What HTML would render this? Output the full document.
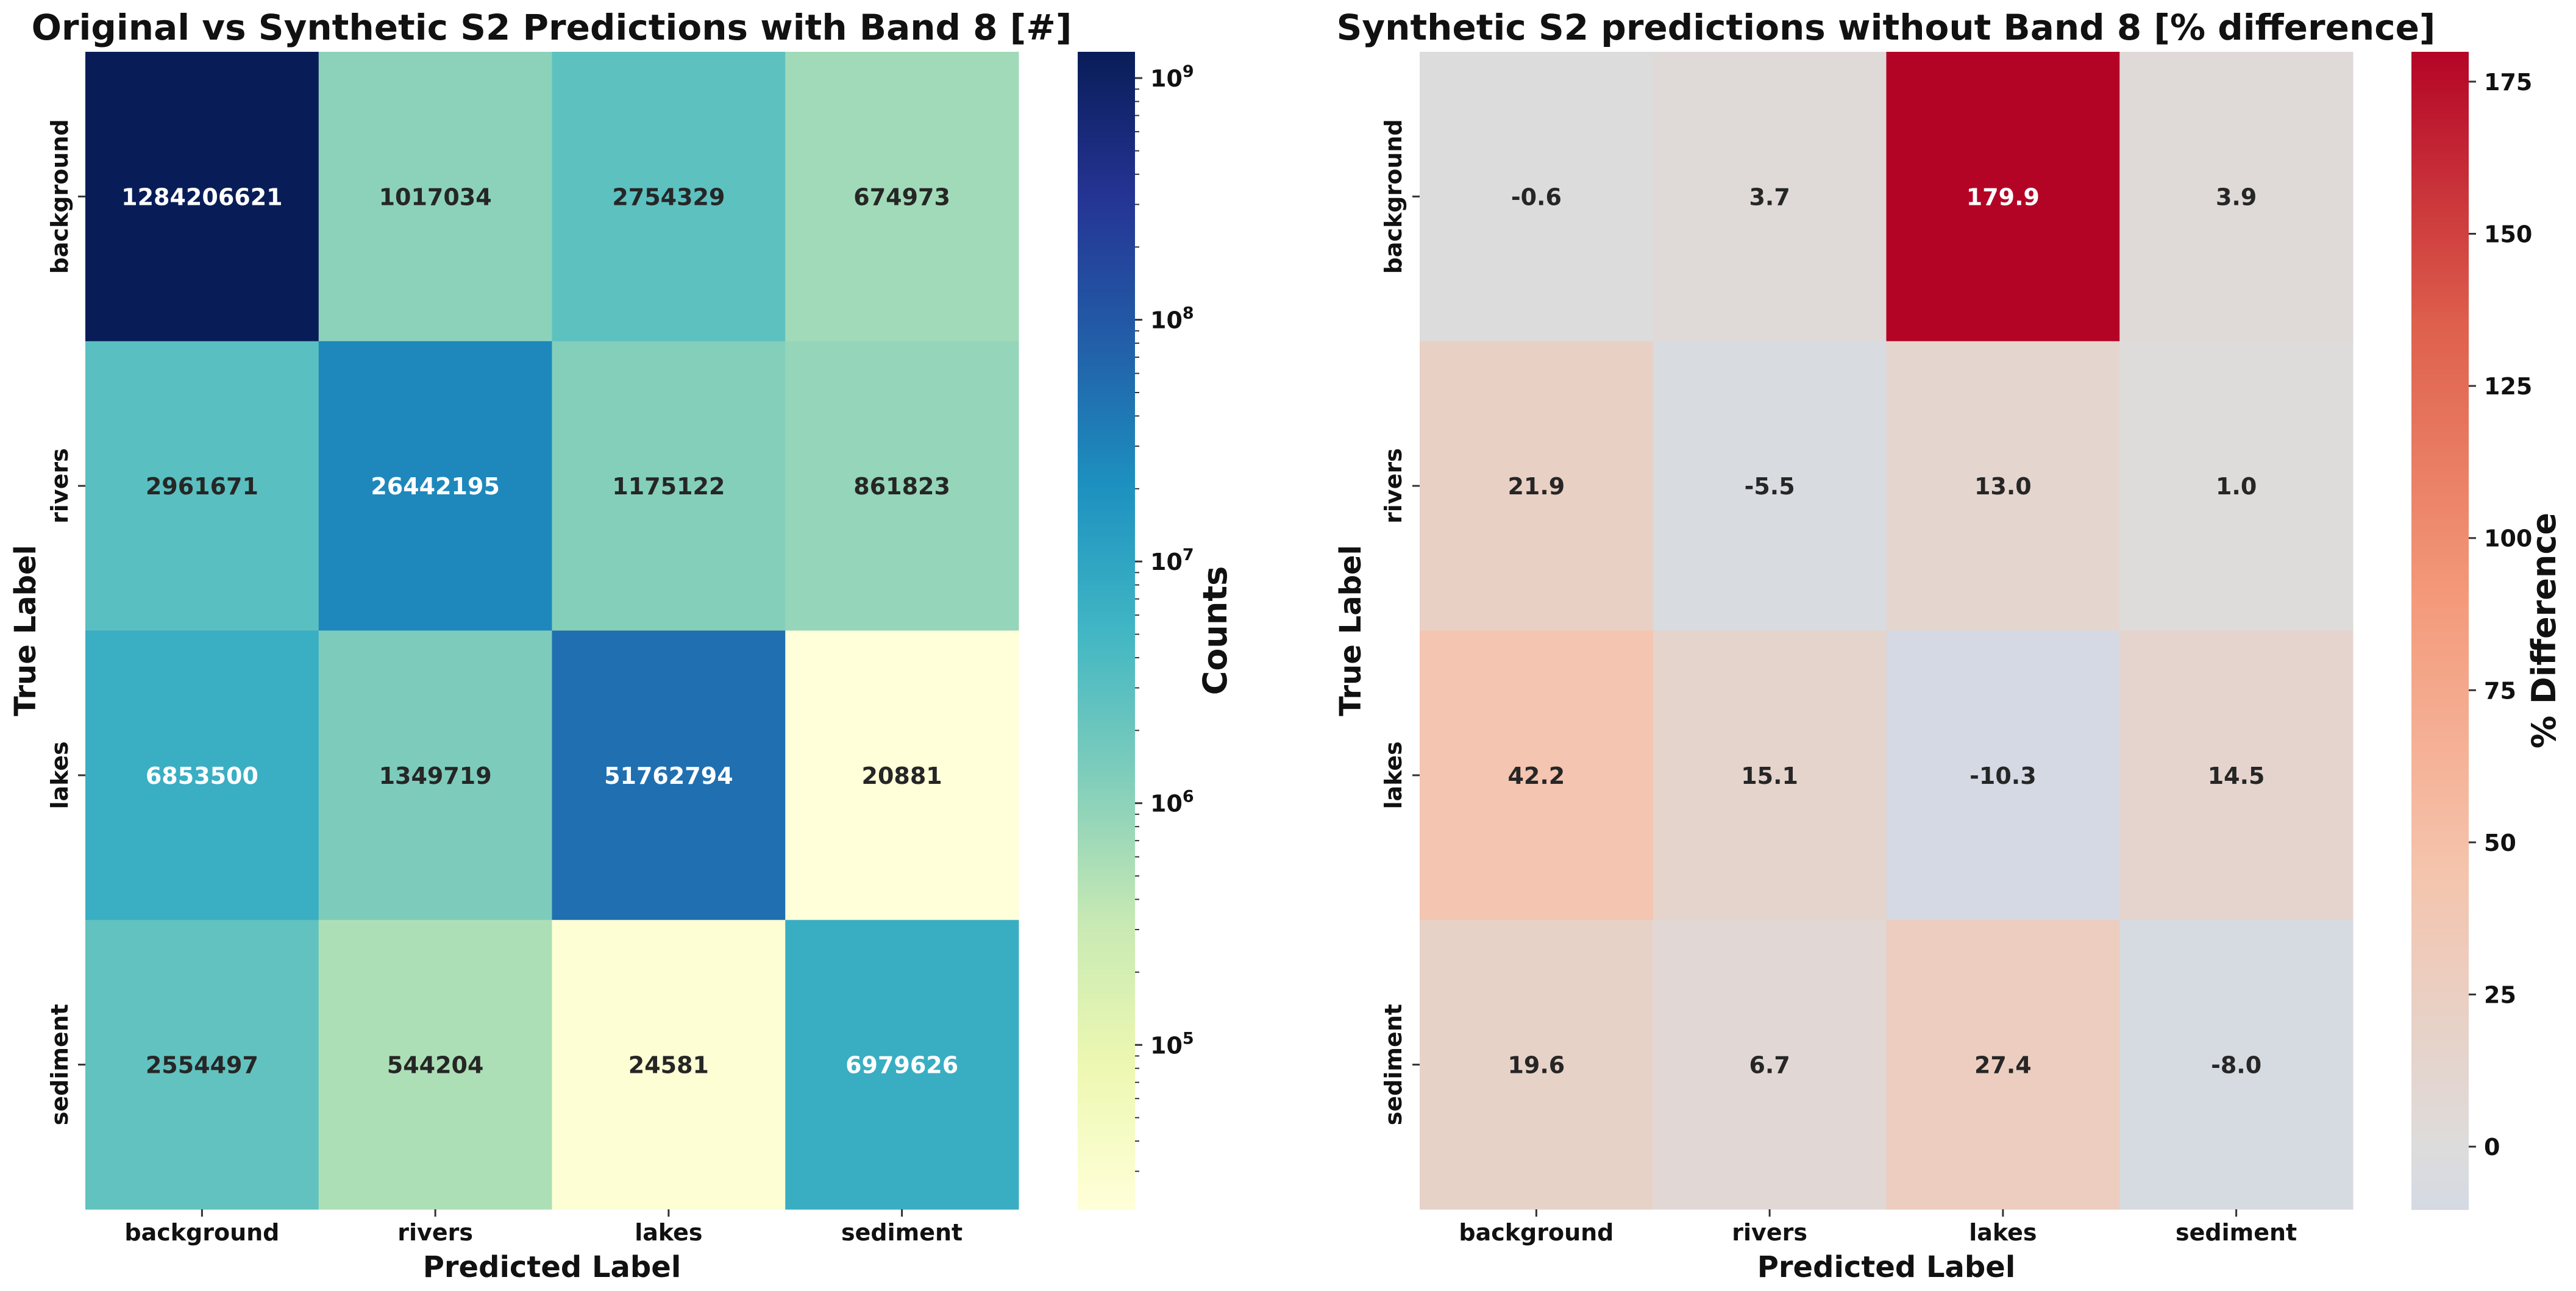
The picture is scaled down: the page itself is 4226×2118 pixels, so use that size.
<!DOCTYPE html>
<html><head><meta charset="utf-8"><style>
html,body{margin:0;padding:0;background:#fff;}
svg text{font-family:"DejaVu Sans","Liberation Sans",sans-serif;font-weight:bold;}
</style></head><body>
<svg id="fig" xmlns="http://www.w3.org/2000/svg" width="4226" height="2113" viewBox="0 0 4226 2113">
<rect width="4226" height="2113" fill="#fff"/>
<g id="left"></g>
<g id="right"></g>
</svg>
<script>
const categories = ["background","rivers","lakes","sediment"];
const countsRow0 = [1284206621,1017034,2754329,674973];
const countsRow1 = [2961671,26442195,1175122,861823];
const countsRow2 = [6853500,1349719,51762794,20881];
const countsRow3 = [2554497,544204,24581,6979626];
const diffRow0 = [-0.6,3.7,179.9,3.9];
const diffRow1 = [21.9,-5.5,13.0,1.0];
const diffRow2 = [42.2,15.1,-10.3,14.5];
const diffRow3 = [19.6,6.7,27.4,-8.0];
const logTickExps = [5,6,7,8,9];
const diffTicks = [0,25,50,75,100,125,150,175];

const NS="http://www.w3.org/2000/svg";
function mk(parent,tag,attrs,text){const e=document.createElementNS(NS,tag);for(const k in attrs)e.setAttribute(k,attrs[k]);if(text!==undefined)e.textContent=text;parent.appendChild(e);return e;}
function lerpStops(stops,t){t=Math.max(0,Math.min(1,t));const n=stops.length-1;const p=t*n;const i=Math.min(n-1,Math.floor(p));const f=p-i;const a=stops[i],b=stops[i+1];return [0,1,2].map(k=>Math.round(a[k]+(b[k]-a[k])*f));}
const YlGnBu=[[255,255,217],[237,248,177],[199,233,180],[127,205,187],[65,182,196],[29,145,192],[34,94,168],[37,52,148],[8,29,88]];
const coolwarm=[[59,76,192],[98,130,234],[141,176,254],[184,208,249],[221,220,220],[245,196,173],[244,154,123],[222,96,77],[180,4,38]];
function rgb(c){return `rgb(${c[0]},${c[1]},${c[2]})`;}
function lum(c){const f=v=>{v/=255;return v<=0.03928?v/12.92:Math.pow((v+0.055)/1.055,2.4)};return 0.2126*f(c[0])+0.7152*f(c[1])+0.0722*f(c[2]);}

const countRows=[countsRow0,countsRow1,countsRow2,countsRow3];
const diffRows=[diffRow0,diffRow1,diffRow2,diffRow3];
const allC=countRows.flat(), allD=diffRows.flat();
const cMin=Math.log10(Math.min(...allC)), cMax=Math.log10(Math.max(...allC));
const dMin=Math.min(...allD), dMax=Math.max(...allD);
const dRange=Math.max(dMax,-dMin);
function countColor(v){return lerpStops(YlGnBu,(Math.log10(v)-cMin)/(cMax-cMin));}
function diffColor(v){return lerpStops(coolwarm,0.5+v/(2*dRange));}

const Y0=85,Y1=1984;
function drawPanel(g,cfg){
  const {x0,x1,rows,colorFn,fmt,title,titleX,ylabX,ytickX,cbX0,cbX1,cbScale,cbLabel,cbLabelX}=cfg;
  const cw=(x1-x0)/4,ch=(Y1-Y0)/4;
  rows.forEach((row,r)=>row.forEach((v,c)=>{
    const col=colorFn(v);
    const rect=mk(g,'rect',{x:x0+c*cw,y:Y0+r*ch,width:cw+0.5,height:ch+0.5,fill:rgb(col)});
    
    
    const t=mk(g,'text',{x:x0+(c+0.5)*cw,y:Y0+(r+0.5)*ch+14,'text-anchor':'middle','font-size':38,fill:lum(col)<0.408?'#fff':'#262626'},fmt(v));
    
    
  }));
  categories.forEach((name,i)=>{
    const cx=x0+(i+0.5)*cw, cy=Y0+(i+0.5)*ch;
    mk(g,'line',{x1:cx,y1:Y1,x2:cx,y2:Y1+12,stroke:'#333','stroke-width':3});
    const xt=mk(g,'text',{x:cx,y:2035,'text-anchor':'middle','font-size':38,fill:'#111'},name);
    
    
    mk(g,'line',{x1:x0,y1:cy,x2:x0-12,y2:cy,stroke:'#333','stroke-width':3});
    const yt=mk(g,'text',{x:ytickX,y:cy,'text-anchor':'middle','font-size':38,fill:'#111',transform:`rotate(-90 ${ytickX} ${cy})`},name);
    
    
  });
  const tt=mk(g,'text',{x:titleX,y:65,'text-anchor':'middle','font-size':58,fill:'#111'},title);
  
  
  const xl=mk(g,'text',{x:(x0+x1)/2,y:2095,'text-anchor':'middle','font-size':48,fill:'#111'},'Predicted Label');
  
  
  const yl=mk(g,'text',{x:ylabX,y:(Y0+Y1)/2,'text-anchor':'middle','font-size':48,fill:'#111',transform:`rotate(-90 ${ylabX} ${(Y0+Y1)/2})`},'True Label');
  
  
  const cb=mk(g,'g',{});
  
  
  const N=380;
  for(let i=0;i<N;i++){
    const y=Y0+(Y1-Y0)*i/N;
    const val=cbScale.valAt(1-(i+0.5)/N);
    mk(cb,'rect',{x:cbX0,y:y,width:cbX1-cbX0,height:(Y1-Y0)/N+1,fill:rgb(cbScale.color(val))});
  }
  cbScale.ticks(cb,cbX1);
  const cl=mk(g,'text',{x:cbLabelX,y:(Y0+Y1)/2,'text-anchor':'middle','font-size':54,fill:'#111',transform:`rotate(-90 ${cbLabelX} ${(Y0+Y1)/2})`},cbLabel);
  
  
}
function cYpos(logv){return Y1-(logv-cMin)/(cMax-cMin)*(Y1-Y0);}
function dYpos(v){return Y1-(v-dMin)/(dMax-dMin)*(Y1-Y0);}

drawPanel(document.getElementById('left'),{
  x0:140,x1:1671,rows:countRows,colorFn:countColor,fmt:v=>String(v),
  title:'Original vs Synthetic S2 Predictions with Band 8 [#]',titleX:905,ylabX:58,ytickX:111,
  cbX0:1768,cbX1:1862,cbLabel:'Counts',cbLabelX:2012,
  cbScale:{valAt:f=>Math.pow(10,cMin+f*(cMax-cMin)),color:countColor,
    ticks:(g,x)=>{
      for(let e=4;e<=9;e++)for(let m=1;m<10;m++){
        const lv=e+Math.log10(m); if(lv<cMin||lv>cMax)continue;
        const y=cYpos(lv);
        mk(g,'line',{x1:x,y1:y,x2:x+(m===1?12:7),y2:y,stroke:'#333','stroke-width':m===1?3:2});
      }
      logTickExps.forEach(e=>{
        const y=cYpos(e);
        const t=mk(g,'text',{x:x+25,y:y+14,'font-size':38,fill:'#111'});
        
        
        mk(t,'tspan',{},'10');
        mk(t,'tspan',{dy:-16,'font-size':27},String(e));
      });
    }}
});
drawPanel(document.getElementById('right'),{
  x0:2329,x1:3860,rows:diffRows,colorFn:diffColor,fmt:v=>v.toFixed(1),
  title:'Synthetic S2 predictions without Band 8 [% difference]',titleX:3094,ylabX:2232,ytickX:2299,
  cbX0:3956,cbX1:4050,cbLabel:'% Difference',cbLabelX:4192,
  cbScale:{valAt:f=>dMin+f*(dMax-dMin),color:diffColor,
    ticks:(g,x)=>{
      diffTicks.forEach(v=>{
        const y=dYpos(v);
        mk(g,'line',{x1:x,y1:y,x2:x+12,y2:y,stroke:'#333','stroke-width':3});
        const t=mk(g,'text',{x:x+25,y:y+14,'font-size':38,fill:'#111'},String(v));
        
        
      });
    }}
});
</script>
</body></html>
